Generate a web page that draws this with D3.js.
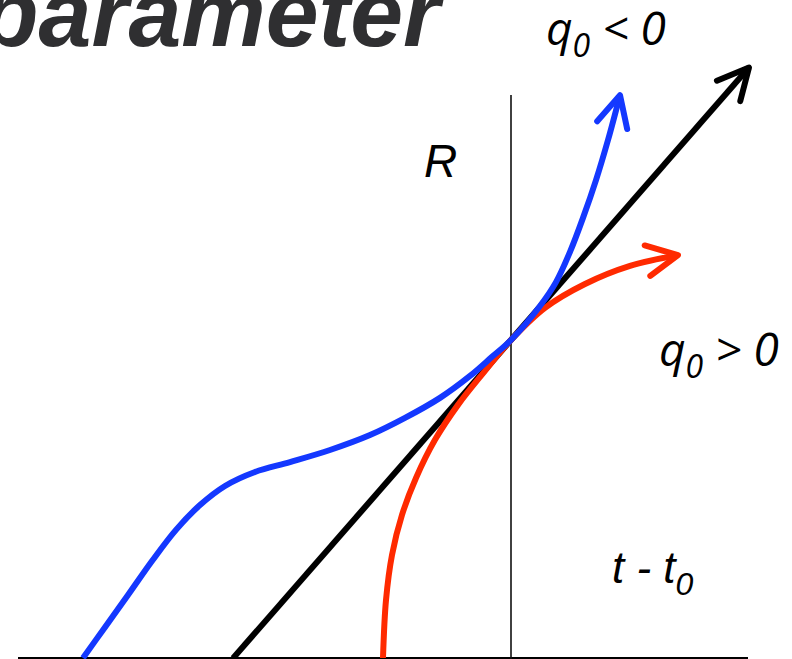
<!DOCTYPE html>
<html>
<head>
<meta charset="utf-8">
<script src="https://cdn.jsdelivr.net/npm/d3@7"></script>
<style>
  html, body { margin: 0; padding: 0; background: #fff; }
  svg { display: block; }
</style>
</head>
<body>
<svg id="chart" width="792" height="659"></svg>
<script>
// Scale factor R versus time relative to today (t - t0); R = 1 at t = t0.
// Coasting (empty) universe: straight line, R = 1 + H0 (t - t0)
const H0 = 0.36;
const linearT = [-2.78, 2.38];

// Accelerating universe (q0 < 0)
const accelT = [-4.28, -4.06, -3.83, -3.59, -3.35, -3.11, -2.86, -2.56, -2.21, -1.81, -1.41, -1.06, -0.71, -0.41, -0.19, 0, 0.29, 0.45, 0.59, 0.72, 0.85, 0.97, 1.09];
const accelR = [0, 0.097, 0.198, 0.305, 0.403, 0.481, 0.541, 0.585, 0.616, 0.654, 0.701, 0.755, 0.818, 0.887, 0.947, 1, 1.107, 1.182, 1.277, 1.384, 1.503, 1.629, 1.77];

// Decelerating universe (q0 > 0)
const decelT = [-1.28, -1.25, -1.19, -1.09, -0.95, -0.76, -0.53, -0.27, 0, 0.34, 0.74, 1.19, 1.67];
const decelR = [0, 0.182, 0.324, 0.45, 0.566, 0.686, 0.796, 0.899, 1, 1.101, 1.176, 1.233, 1.267];

const svg = d3.select("#chart");

const x = d3.scaleLinear().domain([-4.93, 2.41]).range([18, 752]);
const y = d3.scaleLinear().domain([0, 1]).range([658, 340]);

const BLUE = "#1438ff";
const RED = "#ff2a00";
const LW = 6;

// Open chevron arrowheads
const defs = svg.append("defs");
function arrow(id, color) {
  defs.append("marker")
    .attr("id", id)
    .attr("markerUnits", "userSpaceOnUse")
    .attr("viewBox", "-40 -20 50 40")
    .attr("refX", 0).attr("refY", 0)
    .attr("markerWidth", 50).attr("markerHeight", 40)
    .attr("orient", "auto")
    .append("path")
    .attr("d", "M-31,-15.5 L0,0 L-31,15.5")
    .attr("fill", "none")
    .attr("stroke", color)
    .attr("stroke-width", LW)
    .attr("stroke-linecap", "round")
    .attr("stroke-linejoin", "round");
}
arrow("head-black", "#000");
arrow("head-blue", BLUE);
arrow("head-red", RED);

// Title (runs off the left edge)
svg.append("text")
  .attr("x", 440).attr("y", 46)
  .attr("text-anchor", "end")
  .attr("font-family", "'Liberation Sans', Arial, sans-serif")
  .attr("font-weight", "bold")
  .attr("font-style", "italic")
  .attr("font-size", 95)
  .attr("fill", "#2f2f31")
  .text("parameter");

// Horizontal base line and vertical line at t = t0
svg.append("line")
  .attr("x1", x.range()[0]).attr("x2", 748)
  .attr("y1", y(0)).attr("y2", y(0))
  .attr("stroke", "#000").attr("stroke-width", 2);

svg.append("line")
  .attr("x1", x(0)).attr("x2", x(0))
  .attr("y1", 95).attr("y2", 659)
  .attr("stroke", "#111").attr("stroke-width", 1.6);

// Curves
const line = d3.line().x(d => x(d[0])).y(d => y(d[1])).curve(d3.curveCatmullRom.alpha(0.5));

svg.append("path")
  .attr("d", d3.line().x(d => x(d)).y(d => y(1 + H0 * d))(linearT))
  .attr("fill", "none").attr("stroke", "#000").attr("stroke-width", LW)
  .attr("marker-end", "url(#head-black)");

svg.append("path")
  .attr("d", line(decelT.map((t, i) => [t, decelR[i]])))
  .attr("fill", "none").attr("stroke", RED).attr("stroke-width", LW)
  .attr("marker-end", "url(#head-red)");

svg.append("path")
  .attr("d", line(accelT.map((t, i) => [t, accelR[i]])))
  .attr("fill", "none").attr("stroke", BLUE).attr("stroke-width", LW)
  .attr("marker-end", "url(#head-blue)");

// Labels
function qLabel(px, py, rel) {
  const t = svg.append("text")
    .attr("x", px).attr("y", py)
    .attr("font-family", "'Open Sans', sans-serif")
    .attr("font-style", "italic")
    .attr("font-size", 46)
    .attr("fill", "#000");
  t.append("tspan").text("q");
  t.append("tspan").attr("font-size", 32).attr("dy", 12).text("0");
  t.append("tspan").attr("dy", -12).text(" " + rel + " 0");
}
qLabel(546, 45, "<");
qLabel(659, 366, ">");

svg.append("text")
  .attr("x", 424).attr("y", 177)
  .attr("font-family", "'Liberation Sans', Arial, sans-serif")
  .attr("font-style", "italic")
  .attr("font-size", 46)
  .text("R");

const tl = svg.append("text")
  .attr("x", 612).attr("y", 583)
  .attr("font-family", "'Liberation Sans', Arial, sans-serif")
  .attr("font-style", "italic")
  .attr("font-size", 44);
tl.append("tspan").text("t - t");
tl.append("tspan").attr("font-size", 32).attr("dy", 12).text("0");
</script>
</body>
</html>
